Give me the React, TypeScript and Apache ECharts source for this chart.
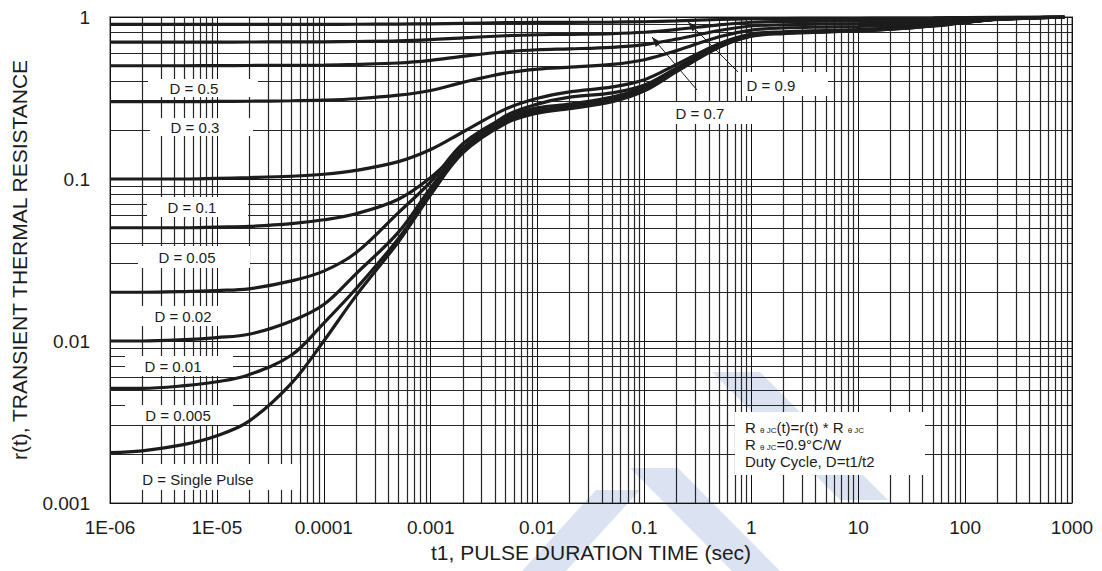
import React, { useEffect, useRef } from 'react';
import * as echarts from 'echarts';

// pulse duration t1 (sec)
const times = [1e-6, 2e-6, 5e-6, 1e-5, 2e-5, 5e-5, 1e-4, 2e-4, 5e-4, 1e-3, 2e-3, 5e-3, 1e-2, 2e-2, 5e-2, 0.1, 0.2, 0.5, 1, 2, 5, 10, 20, 50, 100, 200, 500, 850];

// r(t) for each duty cycle
const rD09 = [0.9, 0.9, 0.9, 0.9, 0.9, 0.9005, 0.901, 0.902, 0.904, 0.908, 0.914, 0.922, 0.926, 0.927, 0.93, 0.935, 0.946, 0.965, 0.976, 0.979, 0.981, 0.982, 0.984, 0.988, 0.993, 0.997, 0.999, 1.0];
const rD07 = [0.7, 0.7, 0.7, 0.7, 0.701, 0.702, 0.703, 0.706, 0.712, 0.724, 0.743, 0.766, 0.777, 0.782, 0.79, 0.805, 0.838, 0.895, 0.928, 0.937, 0.943, 0.946, 0.952, 0.964, 0.978, 0.99, 0.997, 1.0];
const rD05 = [0.5, 0.5, 0.5, 0.501, 0.502, 0.503, 0.505, 0.51, 0.52, 0.54, 0.572, 0.61, 0.628, 0.636, 0.65, 0.675, 0.73, 0.825, 0.88, 0.895, 0.905, 0.91, 0.92, 0.94, 0.962, 0.983, 0.995, 1.0];
const rD03 = [0.3, 0.3, 0.3, 0.301, 0.302, 0.304, 0.307, 0.313, 0.329, 0.352, 0.395, 0.45, 0.477, 0.49, 0.51, 0.545, 0.62, 0.755, 0.83, 0.855, 0.867, 0.874, 0.888, 0.916, 0.948, 0.976, 0.993, 1.0];
const rD01 = [0.1, 0.1, 0.1, 0.101, 0.102, 0.104, 0.107, 0.113, 0.128, 0.152, 0.195, 0.27, 0.315, 0.345, 0.37, 0.41, 0.51, 0.685, 0.785, 0.81, 0.825, 0.835, 0.855, 0.89, 0.93, 0.97, 0.99, 1.0];
const rD005 = [0.05, 0.05, 0.05, 0.0505, 0.051, 0.053, 0.056, 0.061, 0.075, 0.102, 0.155, 0.245, 0.29, 0.32, 0.34, 0.38, 0.485, 0.665, 0.775, 0.805, 0.82, 0.83, 0.85, 0.89, 0.93, 0.97, 0.99, 1.0];
const rD002 = [0.02, 0.02, 0.0202, 0.0205, 0.021, 0.0235, 0.027, 0.035, 0.062, 0.096, 0.165, 0.24, 0.275, 0.29, 0.32, 0.37, 0.475, 0.66, 0.77, 0.8, 0.815, 0.83, 0.85, 0.89, 0.93, 0.97, 0.99, 1.0];
const rD001 = [0.01, 0.01, 0.0102, 0.0105, 0.011, 0.0133, 0.0168, 0.026, 0.047, 0.088, 0.155, 0.232, 0.265, 0.28, 0.31, 0.36, 0.47, 0.66, 0.77, 0.8, 0.815, 0.825, 0.845, 0.885, 0.93, 0.97, 0.99, 1.0];
const rD0005 = [0.0051, 0.0051, 0.0053, 0.0056, 0.0062, 0.0082, 0.0129, 0.021, 0.043, 0.083, 0.15, 0.225, 0.26, 0.275, 0.305, 0.355, 0.465, 0.655, 0.765, 0.795, 0.81, 0.82, 0.84, 0.88, 0.925, 0.965, 0.99, 1.0];
const rSingle = [0.00205, 0.0021, 0.0023, 0.0026, 0.0032, 0.0055, 0.01, 0.019, 0.041, 0.08, 0.145, 0.22, 0.255, 0.272, 0.3, 0.35, 0.46, 0.65, 0.76, 0.79, 0.81, 0.82, 0.84, 0.88, 0.925, 0.965, 0.99, 1.0];

const curveNames = ['D = 0.9', 'D = 0.7', 'D = 0.5', 'D = 0.3', 'D = 0.1', 'D = 0.05', 'D = 0.02', 'D = 0.01', 'D = 0.005', 'D = Single Pulse'];
const curveValues = [rD09, rD07, rD05, rD03, rD01, rD005, rD002, rD001, rD0005, rSingle];

const xTickLabels = ['1E-06', '1E-05', '0.0001', '0.001', '0.01', '0.1', '1', '10', '100', '1000'];
const yTickLabels = ['0.001', '0.01', '0.1', '1'];

const FONT = '"Liberation Sans", Arial, Helvetica, sans-serif';
const INK = '#1c1c1c';

// curve label boxes [text, boxX, boxY, boxW, boxH, textX, textY]
const labelBoxes: [string, number, number, number, number, number, number][] = [
  ['D = 0.5', 148, 79, 110, 18, 194, 88],
  ['D = 0.3', 150, 118, 103, 18, 195, 127],
  ['D = 0.1', 147, 197, 101, 20, 192, 207],
  ['D = 0.05', 138, 246, 112, 22, 187, 257],
  ['D = 0.02', 140, 306, 92, 20, 183, 316],
  ['D = 0.01', 125, 356, 108, 20, 173, 366],
  ['D = 0.005', 125, 405, 108, 20, 178, 415],
  ['D = Single Pulse', 125, 464, 175, 26, 198, 479],
  ['D = 0.7', 660, 102, 98, 22, 700, 113],
  ['D = 0.9', 742, 72, 86, 24, 771, 85],
];

// arrows [tailX, tailY, tipX, tipY]
const arrows: [number, number, number, number][] = [
  [738, 72, 688, 22],
  [697, 90, 652, 37],
];

function arrowHead(tx: number, ty: number, hx: number, hy: number) {
  const dx = hx - tx, dy = hy - ty;
  const len = Math.sqrt(dx * dx + dy * dy);
  const ux = dx / len, uy = dy / len;
  const bx = hx - ux * 10, by = hy - uy * 10;
  const px = -uy * 3.5, py = ux * 3.5;
  return [[hx, hy], [bx + px, by + py], [bx - px, by - py]];
}

export default function App() {
  const ref = useRef<HTMLDivElement>(null);
  useEffect(() => {
    const chart = echarts.init(ref.current!, null, { renderer: 'svg' });

    const minorX: number[] = [];
    for (let e = -6; e < 3; e++) for (let k = 2; k <= 9; k++) minorX.push(k * Math.pow(10, e));
    const minorY: number[] = [];
    for (let e = -3; e < 0; e++) for (let k = 2; k <= 9; k++) minorY.push(k * Math.pow(10, e));

    const curveSeries = curveNames.map((name, i) => ({
      name,
      type: 'line',
      data: times.map((t, j) => [t, curveValues[i][j]]),
      smooth: 0.35,
      symbol: 'none',
      showSymbol: false,
      z: 5,
      lineStyle: { color: INK, width: 3.2 },
      silent: true,
    }));

    const gridSeries = {
      name: 'grid',
      type: 'line',
      data: [[1e-6, 0.001]],
      symbol: 'none',
      lineStyle: { color: '#000', width: 0 },
      z: 1,
      silent: true,
      markLine: {
        silent: true,
        precision: 12,
        symbol: ['none', 'none'],
        label: { show: false },
        animation: false,
        lineStyle: { color: '#262626', width: 1.2, type: 'solid', opacity: 1 },
        emphasis: { disabled: true },
        data: [
          ...minorX.map((v) => ({ xAxis: v })),
          ...minorY.map((v) => ({ yAxis: v })),
        ],
      },
    };

    const graphics: any[] = [];
    // watermark
    const wm = '#dbe3f2';
    graphics.push({ type: 'polygon', z: -10, silent: true, shape: { points: [[712, 372], [760, 372], [888, 500], [840, 500]] }, style: { fill: wm } });
    graphics.push({ type: 'polygon', z: -10, silent: true, shape: { points: [[630, 468], [678, 468], [780, 571], [732, 571]] }, style: { fill: wm } });
    graphics.push({ type: 'polygon', z: -10, silent: true, shape: { points: [[522, 571], [566, 571], [640, 490], [596, 490]] }, style: { fill: wm } });

    labelBoxes.forEach(([txt, bx, by, bw, bh, tx, ty]) => {
      graphics.push({ type: 'rect', z: 100, silent: true, shape: { x: bx, y: by, width: bw, height: bh }, style: { fill: '#ffffff' } });
      graphics.push({
        type: 'text', z: 101, silent: true, x: tx, y: ty,
        style: { text: txt, fill: INK, fontSize: 15, fontFamily: FONT, align: 'center', verticalAlign: 'middle', textAlign: 'center', textVerticalAlign: 'middle' },
      });
    });
    arrows.forEach(([x1, y1, x2, y2]) => {
      graphics.push({ type: 'line', z: 101, silent: true, shape: { x1, y1, x2, y2 }, style: { stroke: INK, lineWidth: 1 } });
      graphics.push({ type: 'polygon', z: 101, silent: true, shape: { points: arrowHead(x1, y1, x2, y2) }, style: { fill: INK } });
    });

    // R theta JC note
    graphics.push({ type: 'rect', z: 100, silent: true, shape: { x: 735, y: 412, width: 190, height: 63 }, style: { fill: '#ffffff' } });
    const rich = {
      n: { fontSize: 15, fontFamily: FONT, fill: INK },
      s: { fontSize: 8, fontFamily: FONT, fill: INK, verticalAlign: 'bottom' },
    };
    const noteLines = [
      '{n|R }{s|θ JC}{n|(t)=r(t) * R }{s|θ JC}',
      '{n|R }{s|θ JC}{n|=0.9°C/W}',
      '{n|Duty Cycle, D=t1/t2}',
    ];
    noteLines.forEach((line, i) => {
      graphics.push({
        type: 'text', z: 101, silent: true, x: 745, y: 427 + i * 17,
        style: { text: line, rich, fill: INK, fontSize: 15, fontFamily: FONT, align: 'left', verticalAlign: 'middle', textAlign: 'left', textVerticalAlign: 'middle' },
      });
    });

    const option: any = {
      animation: false,
      backgroundColor: '#ffffff',
      grid: { left: 110, right: 30, top: 17, bottom: 68, show: true, borderColor: '#9a9a9a', borderWidth: 2, backgroundColor: 'transparent' },
      xAxis: {
        type: 'log',
        logBase: 10,
        min: 1e-6,
        max: 1000,
        name: 't1, PULSE DURATION TIME (sec)',
        nameLocation: 'middle',
        nameGap: 37,
        nameTextStyle: { fontSize: 21, fontFamily: FONT, color: INK },
        axisLine: { show: false },
        axisTick: { show: false },
        axisLabel: {
          fontSize: 19, fontFamily: FONT, color: INK, margin: 15,
          formatter: (v: number) => xTickLabels[Math.round(Math.log10(v)) + 6] ?? '',
        },
        splitLine: { show: true, lineStyle: { color: '#111', width: 1 } },
      },
      yAxis: {
        type: 'log',
        logBase: 10,
        min: 0.001,
        max: 1,
        name: 'r(t), TRANSIENT THERMAL RESISTANCE',
        nameLocation: 'middle',
        nameGap: 80,
        nameRotate: 90,
        nameTextStyle: { fontSize: 21, fontFamily: FONT, color: INK },
        axisLine: { show: false },
        axisTick: { show: false },
        axisLabel: {
          fontSize: 19, fontFamily: FONT, color: INK, margin: 20,
          formatter: (v: number) => yTickLabels[Math.round(Math.log10(v)) + 3] ?? '',
        },
        splitLine: { show: true, lineStyle: { color: '#111', width: 1 } },
      },
      series: [gridSeries, ...curveSeries],
      graphic: { elements: graphics },
    };
    chart.setOption(option);
    return () => chart.dispose();
  }, []);
  return <div ref={ref} style={{ position: 'fixed', left: 0, top: 0, width: 1102, height: 571, background: '#fff' }} />;
}
